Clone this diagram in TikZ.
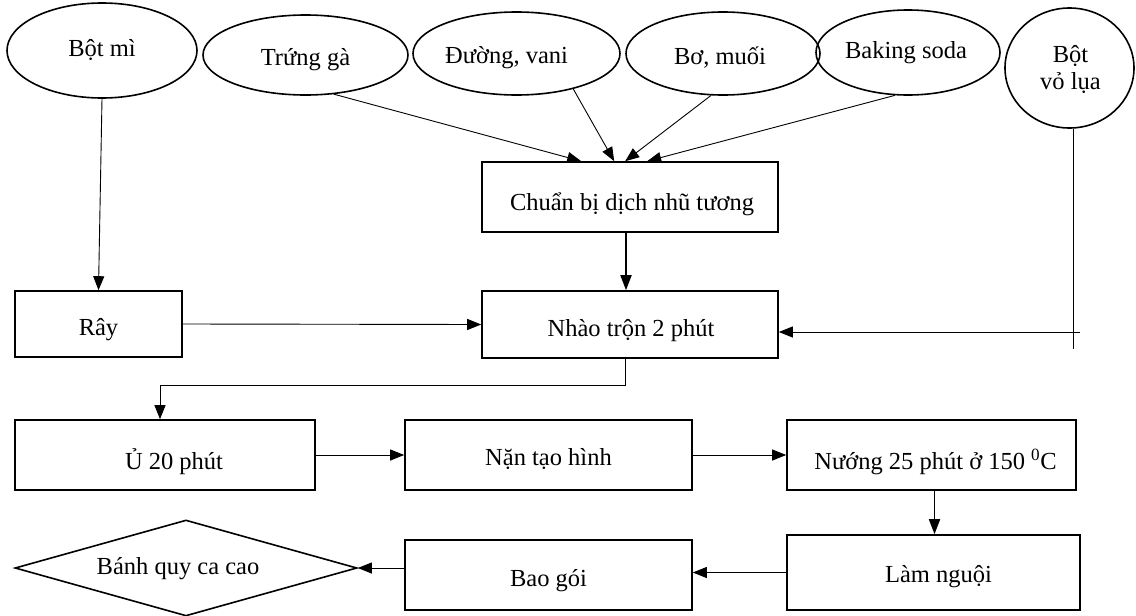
\documentclass[tikz,border=0pt]{standalone}
\usepackage{fontspec}
\setmainfont{Liberation Serif}
\usetikzlibrary{shapes.geometric,arrows.meta,calc}
\begin{document}
\begin{tikzpicture}[x=1pt,y=-1pt,
  txt/.style={font=\fontsize{24.5}{28}\selectfont,inner sep=0pt,align=center},
  ell/.style={ellipse,draw,line width=1.6pt,inner sep=0pt},
  pbox/.style={rectangle,draw,line width=1.6pt,inner sep=0pt},
  conn/.style={line width=0.9pt,-{Triangle[length=14pt,width=11pt]}},
  thick conn/.style={line width=1.8pt,-{Triangle[length=15pt,width=11pt]}},
  plain/.style={line width=0.9pt}]
\useasboundingbox[fill=white] (0,0) rectangle (1136,616);
% input ellipses
\node[ell,minimum width=190pt,minimum height=95pt] (bm) at (102,50.5) {};
\node[ell,minimum width=205pt,minimum height=80pt] (tg) at (305.5,55) {};
\node[ell,minimum width=207pt,minimum height=83pt] (dv) at (516.5,53.5) {};
\node[ell,minimum width=194pt,minimum height=83pt] (bo) at (723,53.5) {};
\node[ell,minimum width=184pt,minimum height=85pt] (bs) at (908,52.5) {};
\node[ell,minimum width=129pt,minimum height=120pt] (bv) at (1069.5,68) {};
\node[txt] (bmt) at ($(bm)+(0,0)$) {Bột mì};
\node[txt] (tgt) at ($(tg)+(0,5)$) {Trứng gà};
\node[txt] (dvt) at ($(dv)+(-10,4)$) {Đường, vani};
\node[txt] (bot) at ($(bo)+(-3,4)$) {Bơ, muối};
\node[txt] (bst) at ($(bs)+(-2,0)$) {Baking soda};
\node[txt] (bvt) at ($(bv)+(1,2)$) {Bột\\[-1pt]vỏ lụa};
% process boxes
\node[pbox,minimum width=296pt,minimum height=70pt] (cb) at (630,197) {};
\node[pbox,minimum width=296pt,minimum height=67pt] (nt) at (630,324.5) {};
\node[pbox,minimum width=167pt,minimum height=66pt] (ray) at (98.5,324) {};
\node[pbox,minimum width=300pt,minimum height=70pt] (u20) at (165,455) {};
\node[pbox,minimum width=287pt,minimum height=70pt] (nan) at (548.5,455) {};
\node[pbox,minimum width=289pt,minimum height=70pt] (nuong) at (931.5,455) {};
\node[pbox,minimum width=293pt,minimum height=75pt] (lam) at (933.5,572.5) {};
\node[pbox,minimum width=287pt,minimum height=70pt] (bao) at (548.5,575) {};
\node[diamond,draw,line width=1.6pt,inner sep=0pt,aspect=3.56,minimum width=342pt,minimum height=96pt] (dia) at (186,568) {};
\node[txt] (cbt) at ($(cb)+(2,7)$) {Chuẩn bị dịch nhũ tương};
\node[txt] (ntt) at ($(nt)+(1,6)$) {Nhào trộn 2 phút};
\node[txt] (rayt) at ($(ray)+(0,6)$) {Rây};
\node[txt] (u20t) at ($(u20)+(9,7)$) {Ủ 20 phút};
\node[txt] (nant) at ($(nan)+(0,4)$) {Nặn tạo hình};
\node[txt] (nuongt) at ($(nuong)+(4,7)$) {Nướng 25 phút ở 150 \textsuperscript{0}C};
\node[txt] (lamt) at ($(lam)+(5,4)$) {Làm nguội};
\node[txt] (baot) at ($(bao)+(0,6)$) {Bao gói};
\node[txt] (diat) at ($(dia)+(-8,1)$) {Bánh quy ca cao};
% connectors
\draw[conn] (bm.south) -- (ray.north);
\draw[conn] (tg.-54) -- ($(cb.north west)+(100,0)$);
\draw[conn] (dv.-32) -- ($(cb.north west)+(133,0)$);
\draw[conn] (bo.-106) -- ($(cb.north west)+(144,0)$);
\draw[conn] (bs.-107) -- ($(cb.north west)+(166,0)$);
\draw[thick conn] ($(cb.south)+(-4,0)$) -- ($(nt.north)+(-4,0)$);
\draw[conn] (ray.east) -- (nt.west);
\coordinate (bvend) at ($(bv.-86)+(0,220)$);
\draw[plain] (bv.-86) -- (bvend);
\coordinate (bvh) at (1080,332);
\draw[conn] (bvh) -- (nt.east |- bvh);
\draw[conn] ($(nt.south)+(-5,0)$) -- ++(0,27) -| ($(u20.north)+(-5,0)$);
\draw[conn] (u20.east) -- (nan.west);
\draw[conn] (nan.east) -- (nuong.west);
\coordinate (nls) at ($(nuong.south)+(3,0)$);
\draw[thick conn] (nls) -- (nls |- lam.north);
\draw[conn] (lam.west) -- (lam.west -| bao.east);
\draw[conn] (bao.west |- dia.east) -- (dia.east);
\end{tikzpicture}
\end{document}
